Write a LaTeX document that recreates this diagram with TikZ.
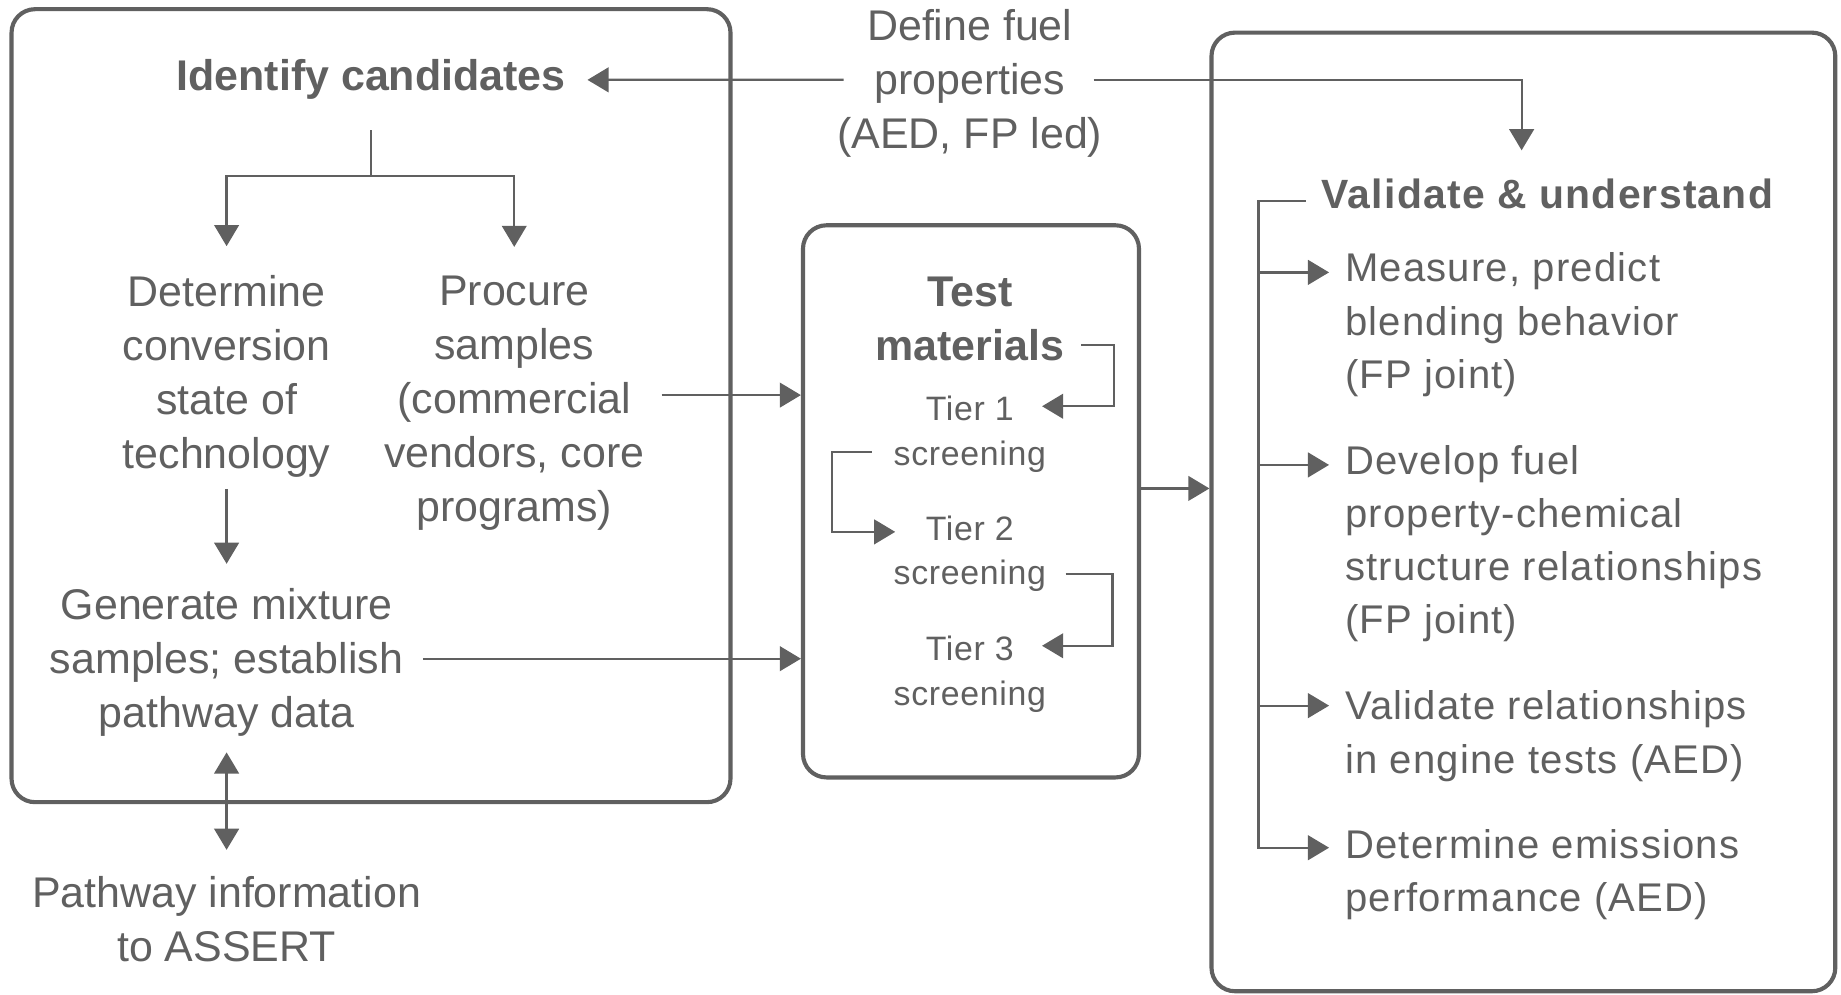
\documentclass[tikz,border=0pt]{standalone}
\usepackage{fontspec}
\setmainfont{Liberation Sans}
\newfontfamily\spacedfont[LetterSpace=3]{Liberation Sans}
\newfontfamily\tierfont[LetterSpace=2]{Liberation Sans}
\usetikzlibrary{arrows.meta,positioning}
\definecolor{ink}{RGB}{96,96,96}
\tikzset{>={Triangle[length=0.18cm,width=0.21cm]}}

\begin{document}
\begin{tikzpicture}[x=0.01cm,y=-0.01cm,
    every node/.style={inner sep=0pt,text=ink},
    panel/.style={draw=ink,line width=1pt,rounded corners=0.2cm},
    link/.style={draw=ink,line width=0.55pt},
    plain/.style={align=center,font=\fontsize{10.4}{13.1}\selectfont},
    head/.style={align=center,font=\fontsize{10.4}{13.1}\selectfont\bfseries},
    tier/.style={align=center,font=\tierfont\fontsize{8.2}{10.8}\selectfont},
    item/.style={align=left,anchor=west,font=\spacedfont\fontsize{9.7}{12.9}\selectfont}]
  \useasboundingbox (0,0) rectangle (1568,847);

  % panels
  \node[panel,minimum width=6.12cm,minimum height=6.75cm] (candbox) at (316,345.5) {};
  \node[panel,minimum width=2.86cm,minimum height=4.70cm] (testbox) at (827,427) {};
  \node[panel,minimum width=5.31cm,minimum height=8.16cm] (valbox) at (1297.5,436) {};

  % texts
  \node[head] (ident) at (316,68) {Identify candidates};
  \node[plain] (fuel) at (826,71) {Define fuel\\properties\\(AED, FP led)};
  \node[plain] (conv) at (193,320.5) {Determine\\conversion\\state of\\technology};
  \node[plain] (procure) at (438,343.5) {Procure\\samples\\(commercial\\vendors, core\\programs)};
  \node[plain] (mix) at (193,564) {Generate mixture\\samples; establish\\pathway data};
  \node[plain] (assert) at (193,783) {Pathway information\\to ASSERT};
  \node[head] (testm) at (826,272) {Test\\materials};
  \node[tier] (tier1) at (826,370) {Tier 1\\screening};
  \node[tier] (tier2) at (826,471.5) {Tier 2\\screening};
  \node[tier] (tier3) at (826,574) {Tier 3\\screening};
  \node[item,font=\spacedfont\bfseries\fontsize{9.9}{13}\selectfont] (valid) at (1125,165) {Validate \& understand};
  \node[item] (blend) at (1145,276.5) {Measure, predict\\blending behavior\\(FP joint)};
  \node[item] (struct) at (1145,463) {Develop fuel\\property-chemical\\structure relationships\\(FP joint)};
  \node[item] (engine) at (1145,627) {Validate relationships\\in engine tests (AED)};
  \node[item] (emis) at (1145,745) {Determine emissions\\performance (AED)};

  \coordinate (vtop) at (1296,128);
  \coordinate (split) at (316,150);

  % connectors
  \draw[link,->] ([xshift=0.06cm,yshift=0.03cm]fuel.west) -- ([xshift=0.18cm]ident.east);
  \draw[link,->] ([xshift=-0.08cm,yshift=0.03cm]fuel.east) -| (vtop);
  \draw[link] ([yshift=-0.25cm]ident.south) -- (split);
  \draw[link,->] (split) -| ([yshift=0.24cm]conv.north);
  \draw[link,->] (split) -| ([yshift=0.24cm]procure.north);
  \draw[link,->] ([yshift=-0.09cm]conv.south) -- ([yshift=0.2cm]mix.north);
  \draw[link,->] ([xshift=0.14cm,yshift=0.07cm]procure.east) -- ([yshift=0.07cm]procure.east -| testbox.west);
  \draw[link,->] ([xshift=0.16cm,yshift=0.03cm]mix.east) -- ([yshift=0.03cm]mix.east -| testbox.west);
  \draw[link,<->] ([yshift=-0.13cm]mix.south) -- ([yshift=0.22cm]assert.north);

  \draw[link,->] ([xshift=0.14cm,yshift=-0.22cm]testm.east) -- ++(28,0) |- ([xshift=-0.04cm,yshift=0.24cm]tier1.east);
  \draw[link,->] ([xshift=-0.18cm,yshift=-0.15cm]tier1.west) -- ++(-34,0) |- ([xshift=0.02cm,yshift=0.185cm]tier2.west);
  \draw[link,->] ([xshift=0.16cm,yshift=-0.175cm]tier2.east) -- ++(40,0) |- ([xshift=-0.04cm,yshift=0.24cm]tier3.east);
  \draw[link,->] ([yshift=0.11cm]testbox.east) -- ([yshift=0.11cm]testbox.east -| valbox.west);

  \draw[link,->] ([xshift=-0.13cm,yshift=-0.06cm]valid.west) -| ([xshift=-0.73cm,yshift=0.23cm]emis.west) -- ([xshift=-0.13cm,yshift=0.23cm]emis.west);
  \foreach \n/\dy in {blend/0.445,struct/0.67,engine/0.26}
    \draw[link,->] ([xshift=-0.73cm,yshift=\dy cm]\n.west) -- ([xshift=-0.13cm,yshift=\dy cm]\n.west);
\end{tikzpicture}
\end{document}
